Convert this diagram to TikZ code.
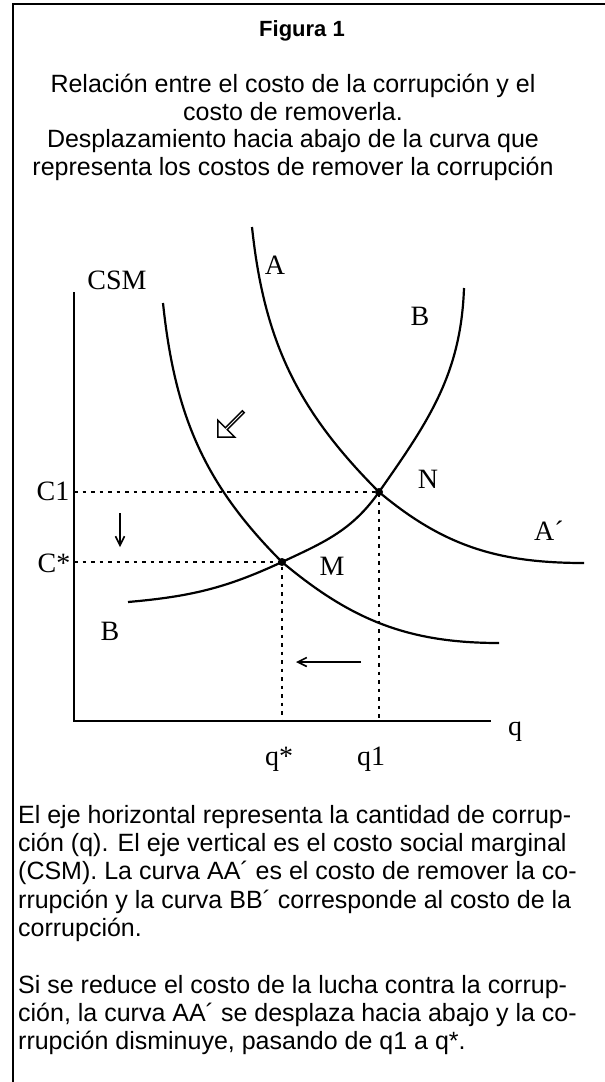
\documentclass[tikz,border=0pt]{standalone}
\usepackage{fontspec}
\setmainfont{Liberation Serif}
\setsansfont{Liberation Sans}
\usetikzlibrary{arrows.meta,shapes.arrows}

\begin{document}
\begin{tikzpicture}[x=1pt,y=1pt,
    curva/.style={line width=2.2pt},
    eje/.style={line width=1.8pt},
    guia/.style={line width=1.8pt,dash pattern=on 3.5pt off 5pt},
    punto/.style={circle,fill,inner sep=0pt,minimum size=8pt},
    etiq/.style={font=\fontsize{28}{30}\selectfont,inner sep=0pt,anchor=base},
    texto/.style={font=\sffamily\fontsize{25}{28.3}\selectfont,inner sep=0pt,align=left,anchor=north west},
    flecha/.style={line width=1.6pt,-{Straight Barb[length=9pt,width=9pt]}}]
    \useasboundingbox (0,0) rectangle (605,-1082);
    \draw[line width=2.4pt] (13,-1082) -- (13,-4) -- (605,-4);

    \node[font=\sffamily\bfseries\fontsize{22}{24}\selectfont,anchor=base] (titulo) at (302,-36) {Figura 1};
    \node[font=\sffamily\fontsize{25}{27.5}\selectfont,align=center,anchor=base] (encabezado) at (293,-175)
      {Relación entre el costo de la corrupción y el\\costo de removerla.\\Desplazamiento hacia abajo de la curva que\\representa los costos de remover la corrupción};

    \coordinate (O) at (74,-721);
    \coordinate (ytope) at (74,-292);
    \coordinate (xfin) at (491,-721);
    \coordinate (N) at (379,-492);
    \coordinate (M) at (282,-562);
    \coordinate (Atope) at (252,-227);
    \coordinate (Afin) at (584,-563);
    \coordinate (A2tope) at (163,-303);
    \coordinate (A2fin) at (499,-643);
    \coordinate (Bini) at (128,-602);
    \coordinate (Btope) at (464,-288);

    \draw[eje] (ytope) -- (O) -- (xfin);
    \draw[guia] (O |- N) -- (N) -- (O -| N);
    \draw[guia] (O |- M) -- (M) -- (O -| M);
    \draw[curva] (Atope) to[out=-84,in=135] (N) to[out=-40,in=180] (Afin);
    \draw[curva] (A2tope) to[out=-84,in=135] (M) to[out=-40,in=180] (A2fin);
    \draw[curva] (Bini) to[out=5,in=-155] (M) to[out=25,in=-125] (N) to[out=55,in=-92] (Btope);
    \node[punto] (pN) at (N) {};
    \node[punto] (pM) at (M) {};

    \node[etiq] (csm) at (117,-289) {CSM};
    \node[etiq] (la) at (275,-274) {A};
    \node[etiq] (lbsup) at (420,-325) {B};
    \node[etiq] (ln) at (428,-488) {N};
    \node[etiq] (lm) at (332,-575) {M};
    \node[etiq,anchor=base west] (laprima) at (534,-540) {A´};
    \node[etiq] (lbinf) at (110,-640) {B};
    \node[etiq] (c1) at (53,-500) {C1};
    \node[etiq] (cest) at (54,-572) {C*};
    \node[etiq] (lq) at (515,-735) {q};
    \node[etiq] (qest) at (279,-765) {q*};
    \node[etiq] (q1) at (371,-765) {q1};

    \coordinate (bajaIni) at (120,-513);
    \coordinate (bajaFin) at (120,-547);
    \draw[flecha] (bajaIni) -- (bajaFin);
    \coordinate (izqIni) at (361,-662);
    \coordinate (izqFin) at (296,-662);
    \draw[flecha] (izqIni) -- (izqFin);
    \node[single arrow,draw,line width=1.5pt,minimum height=36pt,minimum width=24pt,
      single arrow head extend=6pt,single arrow head indent=0pt,inner sep=0pt,rotate=225] (desplaza) at (231,-424) {};

    \node[texto] (parrafoA) at (18,-805)
      {El eje horizontal representa la cantidad de corrup-\\ción (q). El eje vertical es el costo social marginal\\(CSM). La curva AA´ es el costo de remover la co-\\rrupción y la curva BB´ corresponde al costo de la\\corrupción.};
    \node[texto] (parrafoB) at (18,-975)
      {Si se reduce el costo de la lucha contra la corrup-\\ción, la curva AA´ se desplaza hacia abajo y la co-\\rrupción disminuye, pasando de q1 a q*.};
\end{tikzpicture}
\end{document}
